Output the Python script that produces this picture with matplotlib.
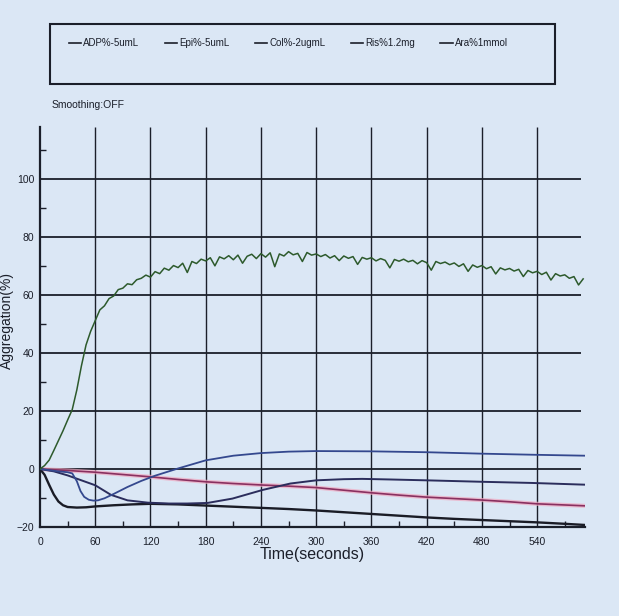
import numpy as np
import matplotlib.pyplot as plt
from matplotlib.lines import Line2D
from matplotlib.patches import Rectangle

plt.rcParams['font.family'] = ['Liberation Sans Narrow', 'Liberation Sans', 'DejaVu Sans']

# legend labels
labels = ["ADP%-5umL", "Epi%-5umL", "Col%-2ugmL", "Ris%1.2mg", "Ara%1mmol"]

# green trace (big aggregation), one reading every 5 s
t_green = np.arange(0, 595, 5)
y_green = [0.0, 1.2, 3.1, 6.4, 9.8, 13.2, 16.9, 20.5, 27.3, 35.6,
           42.8, 47.5, 51.2, 54.9, 56.3, 58.8, 59.7, 61.9, 62.4, 63.9,
           63.6, 65.3, 65.8, 66.9, 66.2, 68.1, 67.4, 69.3, 68.6, 70.2,
           69.5, 71.0, 67.8, 71.6, 70.9, 72.4, 71.8, 72.9, 70.1, 73.2,
           72.5, 73.6, 72.2, 73.8, 71.0, 73.4, 74.1, 72.6, 74.3, 73.1,
           74.6, 69.8, 74.2, 73.5, 75.0, 73.9, 74.4, 71.6, 74.7, 73.8,
           74.2, 73.3, 74.0, 72.8, 73.6, 71.9, 73.5, 72.7, 73.3, 70.6,
           73.0, 72.4, 72.9, 71.8, 72.6, 72.0, 69.4, 72.3, 71.7, 72.4,
           71.5, 72.0, 70.8, 71.9, 71.2, 68.6, 71.6, 70.9, 71.4, 70.5,
           71.1, 69.9, 70.8, 68.2, 70.4, 69.6, 70.2, 69.1, 69.8, 67.3,
           69.4, 68.7, 69.2, 68.3, 68.9, 66.4, 68.5, 67.7, 68.2, 67.1,
           67.9, 65.2, 67.4, 66.6, 67.0, 65.8, 66.4, 63.5, 65.6]

# blue trace: dip then rise above zero
t_blue = [0, 10, 20, 30, 35, 40, 44, 48, 53, 58, 63, 70, 80, 95, 110, 125, 150,
          180, 210, 240, 270, 300, 360, 420, 480, 540, 592]
y_blue = [0, -0.4, -0.8, -1.1, -1.5, -4.2, -7.6, -9.6, -10.6, -10.9, -10.8, -10.1,
          -8.6, -6.2, -4.1, -2.3, 0.2, 3.0, 4.6, 5.5, 6.0, 6.2, 6.1, 5.8, 5.3, 4.9, 4.6]

# black trace: fast drop then slow decline
t_black = [0, 5, 10, 15, 20, 25, 30, 40, 50, 60, 80, 100, 120, 150, 180, 210, 240,
           270, 300, 330, 360, 390, 420, 450, 480, 510, 540, 570, 592]
y_black = [0, -2.0, -5.5, -8.8, -11.2, -12.5, -13.1, -13.3, -13.2, -12.9, -12.5,
           -12.2, -12.0, -12.2, -12.6, -13.0, -13.4, -13.8, -14.3, -14.9, -15.5,
           -16.1, -16.7, -17.2, -17.6, -18.0, -18.4, -18.9, -19.3]

# navy trace: slow dip, recovery after 180 s
t_navy = [0, 15, 30, 45, 60, 77, 95, 117, 140, 160, 182, 209, 242, 272, 300, 330,
          350, 380, 420, 480, 534, 592]
y_navy = [0, -0.8, -2.2, -3.9, -5.6, -8.9, -10.8, -11.6, -11.9, -11.9, -11.7,
          -10.2, -7.2, -5.0, -3.9, -3.5, -3.4, -3.6, -3.9, -4.4, -4.8, -5.4]

# pink trace: steady decline
t_pink = [0, 30, 60, 90, 120, 150, 180, 210, 240, 270, 300, 330, 360, 390, 420,
          450, 480, 510, 540, 570, 592]
y_pink = [0, -0.5, -1.1, -1.9, -2.7, -3.6, -4.4, -5.0, -5.5, -5.9, -6.4, -7.3, -8.2,
          -9.0, -9.7, -10.2, -10.7, -11.3, -12.0, -12.4, -12.7]

xticks = [0, 60, 120, 180, 240, 300, 360, 420, 480, 540]
yticks = [-20, 0, 20, 40, 60, 80, 100]

bg = '#dbe7f5'
ink = '#1b1f2a'
fig = plt.figure(figsize=(6.19, 6.16), dpi=100, facecolor=bg)
ax = fig.add_axes([40/619, 1-527/616, 545/619, 400/616])
ax.set_facecolor(bg)

# grid drawn by hand so the lines stop where the recorder stops them
ax.hlines(yticks[1:], 0, 588, color=ink, lw=1.3, zorder=1)
ax.vlines(xticks[1:], -20, 118, color=ink, lw=1.0, zorder=1)

ax.plot(t_pink, y_pink, color='#f0a8c0', lw=3.0, alpha=0.7, zorder=2)
ax.plot(t_pink, y_pink, color='#8a3060', lw=1.2, zorder=3)
ax.plot(t_black, y_black, color='#1a1c26', lw=1.7, zorder=3)
ax.plot(t_navy, y_navy, color='#2b2d5c', lw=1.4, zorder=3)
ax.plot(t_blue, y_blue, color='#34488e', lw=1.3, zorder=3)
ax.plot(t_green, y_green, color='#2d5a2c', lw=1.1, zorder=4)

ax.set_xlim(0, 592)
ax.set_ylim(-20, 118)
ax.set_xticks(xticks)
ax.set_yticks(yticks)
ax.set_xticks([30, 90, 150, 210, 270, 330, 390, 450, 510, 570], minor=True)
ax.set_yticks([-10, 10, 30, 50, 70, 90, 110], minor=True)
ax.tick_params(which='major', length=0, labelsize=7.5, colors=ink, pad=4)
ax.tick_params(axis='x', which='major', pad=7)
ax.tick_params(which='minor', length=4, direction='in', width=1, colors=ink)
for s in ['top', 'right']:
    ax.spines[s].set_visible(False)
for s in ['left', 'bottom']:
    ax.spines[s].set_linewidth(1.6)
    ax.spines[s].set_color(ink)

ax.set_xlabel('Time(seconds)', fontsize=11.5, labelpad=0, color=ink)
fig.text(0.011, 0.48, 'Aggregation(%)', rotation=90, ha='center', va='center',
         fontsize=10, color=ink)
fig.text(52/619, 1-105/616, 'Smoothing:OFF', fontsize=7.5, va='center', color=ink)

# legend box at the top
fig.patches.append(Rectangle((50/619, 1-84/616), 505/619, 60/616, transform=fig.transFigure,
                             fill=False, edgecolor=ink, lw=1.5))
handles = [Line2D([], [], color=ink, lw=1.2) for _ in labels]
fig.legend(handles, labels, loc='center left', bbox_to_anchor=(60/619, 1-43/616),
           ncol=5, frameon=False, fontsize=7, handlelength=1.3, handletextpad=0.2,
           columnspacing=2.6, labelcolor=ink)

plt.savefig('out.png', dpi=100, facecolor=bg)
